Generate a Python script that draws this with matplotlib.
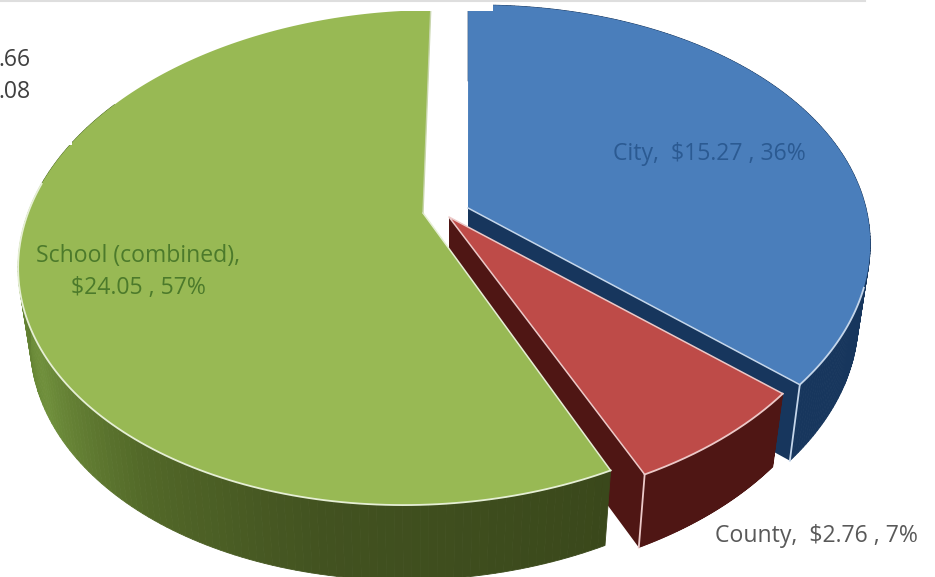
import numpy as np
import matplotlib
matplotlib.use("Agg")
import matplotlib.pyplot as plt
from matplotlib.patches import Rectangle

names = ["City", "County", "School (combined)"]
values = [15.27, 2.76, 24.05]
percents = [36, 7, 57]
leftover_labels = [".66", ".08"]

# one look per slice: tip in pixels, widths of the squashed disc, colours
tips = [(468, 208), (449, 217), (423, 213)]
widths = [398, 396, 395]
skews = [14, 9, 16]
leans = [2, 0, 1]
top_colors = ["#4a7ebb", "#be4b48", "#98b954"]
wall_colors = ["#17365d", "#4f1614", "#3d4a1c"]
edge_colors = ["#c5d6ea", "#ecc9c8", "#e6efd5"]
depths = [76, 73, 75]

shrink = 0.97

fig = plt.figure(figsize=(9.35, 5.77), dpi=100)
ax = fig.add_axes([0, 0, 1, 1])
ax.set_xlim(0, 935)
ax.set_ylim(577, 0)
ax.axis("off")
plt.rcParams["font.family"] = ["Open Sans", "DejaVu Sans"]


def project(i, theta, r=1.0):
    # clockwise from 12 o'clock, with a bit of perspective
    t = np.radians(theta - leans[i] * np.maximum(0, np.cos(np.radians(theta))))
    x = r * np.sin(t)
    v = -r * np.cos(t)
    d = 1 - 0.18 * v
    px = tips[i][0] + (widths[i] * x - skews[i] * v) / d
    py = tips[i][1] + 239.5 * v / d
    return px, py


def drop(i, px, py):
    return tips[i][0] + (px - tips[i][0]) * shrink, py + depths[i]


fractions = np.cumsum([0] + values) / sum(values) * 360
green_stops = [154, 190, 215, 240, 262, 278]
green_r = [0x3a, 0x42, 0x52, 0x70, 0x5e, 0x4e]
green_g = [0x48, 0x52, 0x68, 0x90, 0x7c, 0x6c]
green_b = [0x1b, 0x20, 0x28, 0x3c, 0x30, 0x28]

# back to front: blue, red, green
for i in range(3):
    a0, a1 = fractions[i], fractions[i + 1]
    th = np.linspace(a0, a1, 200)
    px, py = project(i, th)
    bx, by = drop(i, px, py)

    # outer wall, cut in thin quads so the green one can carry its shading
    for k in range(len(th) - 1):
        if i == 2:
            m = (th[k] + th[k + 1]) / 2
            if m > 300:
                continue
            c = (np.interp(m, green_stops, green_r) / 255,
                 np.interp(m, green_stops, green_g) / 255,
                 np.interp(m, green_stops, green_b) / 255)
        else:
            c = wall_colors[i]
        ax.fill([px[k], px[k + 1], bx[k + 1], bx[k]],
                [py[k], py[k + 1], by[k + 1], by[k]],
                color=c, lw=0.6, zorder=i * 3 + 1)

    # cut face, the one that looks at the viewer
    if i < 2:
        ex, ey = px[-1], py[-1]
        ebx, eby = bx[-1], by[-1]
        ax.fill([tips[i][0], ex, ebx, tips[i][0]],
                [tips[i][1], ey, eby, tips[i][1] + depths[i]],
                color=wall_colors[i], lw=0, zorder=i * 3 + 1)
        ax.plot([ex, ebx], [ey, eby], color=edge_colors[i], lw=1.3, zorder=i * 3 + 2)

    # top face
    ax.fill(np.r_[tips[i][0], px], np.r_[tips[i][1], py],
            color=top_colors[i], lw=0, zorder=i * 3 + 2)

    # light rim along the front
    if i == 0:
        front = th > 108
        ax.plot(np.r_[tips[i][0], px[-1]], np.r_[tips[i][1], py[-1]],
                color=edge_colors[i], lw=1.1, zorder=i * 3 + 3)
    elif i == 1:
        front = th > 0
        ax.plot([px[0], tips[i][0], px[-1]], [py[0], tips[i][1], py[-1]],
                color=edge_colors[i], lw=1.1, zorder=i * 3 + 3)
    else:
        front = th < 278
        ax.plot([px[0], tips[i][0]], [py[0], tips[i][1]],
                color=edge_colors[i], lw=1.1, zorder=i * 3 + 3)
        ax.plot([tips[i][0], px[-1]], [tips[i][1], py[-1]],
                color="#c9d6ae", lw=1.0, zorder=i * 3 + 3)
    ax.plot(px[front], py[front], color=edge_colors[i], lw=1.3, zorder=i * 3 + 3)

# the picture was cropped and patched: white strips over the pie
ax.add_patch(Rectangle((0, 0), 493, 11, color="white", lw=0, zorder=20))
ax.add_patch(Rectangle((0, 0), 72, 145, color="white", lw=0, zorder=20))
ax.plot([0, 865], [0.5, 0.5], color="#dedede", lw=1.5, zorder=21)

fs = 16.6
ax.text(709, 154, f"{names[0]},  ${values[0]:.2f} , {percents[0]}%",
        color="#2b5a92", fontsize=fs, ha="center", va="center", zorder=30)
ax.text(816, 536, f"{names[1]},  ${values[1]:.2f} , {percents[1]}%",
        color="#595959", fontsize=fs, ha="center", va="center", zorder=30)
ax.text(138, 272, f"{names[2]},\n${values[2]:.2f} , {percents[2]}%",
        color="#4c7a2b", fontsize=fs, ha="center", va="center", linespacing=1.45, zorder=30)
for y, lab in zip([60, 92], leftover_labels):
    ax.text(31, y, lab, color="#404040", fontsize=fs, ha="right", va="center", zorder=30)

fig.savefig("out.png", dpi=100)
